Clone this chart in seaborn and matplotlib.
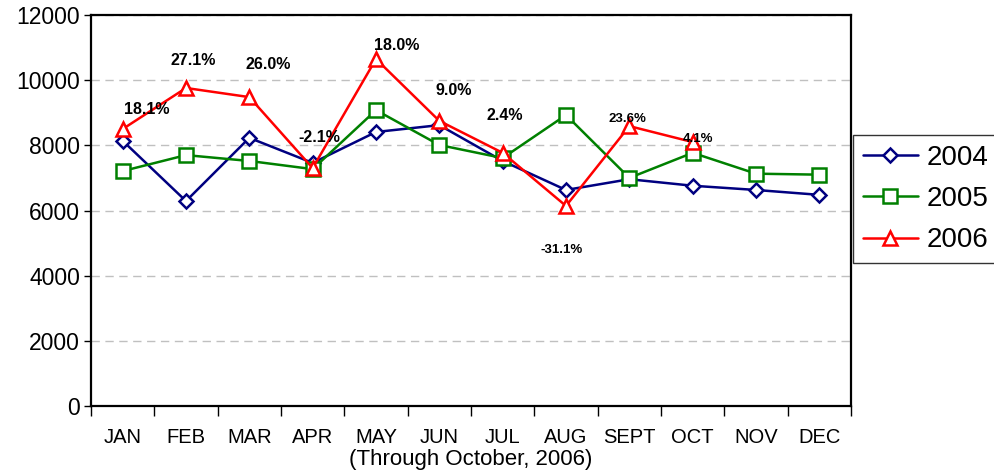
import numpy as np
import pandas as pd
import matplotlib
matplotlib.use("Agg")
import matplotlib.pyplot as plt
from matplotlib.ticker import FixedLocator
import seaborn as sns

months = ['JAN', 'FEB', 'MAR', 'APR', 'MAY', 'JUN', 'JUL', 'AUG', 'SEPT', 'OCT', 'NOV', 'DEC']
sales_2004 = [8140, 6290, 8230, 7460, 8410, 8620, 7520, 6630, 6960, 6760, 6630, 6480]
sales_2005 = [7210, 7700, 7520, 7270, 9080, 8010, 7610, 8930, 7000, 7770, 7130, 7100]
sales_2006 = [8500, 9760, 9480, 7300, 10650, 8750, 7770, 6140, 8590, 8100]
pct_labels = ['18.1%', '27.1%', '26.0%', '-2.1%', '18.0%', '9.0%', '2.4%', '-31.1%', '23.6%', '4.1%']

sns.set_style("white")
plt.rcParams['font.family'] = ['Liberation Sans', 'DejaVu Sans']
for key in ['text.color', 'axes.labelcolor', 'xtick.color', 'ytick.color']:
    plt.rcParams[key] = 'black'

fig = plt.figure(figsize=(9.95, 4.74), dpi=100)
ax = fig.add_axes([91 / 995, 1 - 406 / 474, 760 / 995, 391 / 474])

series = [
    ('2004', sales_2004, '#000080', 'D', 7.5),
    ('2005', sales_2005, '#008000', 's', 9.5),
    ('2006', sales_2006, '#ff0000', '^', 10.5),
]
for name, vals, color, marker, ms in series:
    df = pd.DataFrame({'x': np.arange(len(vals)), 'y': vals})
    sns.lineplot(data=df, x='x', y='y', ax=ax, color=color, linewidth=1.8,
                 marker=marker, markersize=ms, markerfacecolor='white',
                 markeredgecolor=color, markeredgewidth=1.8, label=name)

# percent change labels near the 2006 points
offsets = [(24, 20), (7, 27), (19, 33), (7, 31), (21, 13), (14, 30),
           (2, 37), (-4, -44), (-2, 7), (5, 3)]
sizes = [11.5, 11.5, 11.5, 11.5, 11.5, 11.5, 11.5, 9.5, 9.5, 9.5]
for i, (lab, off, fs) in enumerate(zip(pct_labels, offsets, sizes)):
    ax.annotate(lab, (i, sales_2006[i]), xytext=off, textcoords='offset pixels',
                ha='center', va='center', fontsize=fs, fontweight='bold')

ax.set_xlim(-0.5, 11.5)
ax.set_ylim(0, 12000)
ax.set_yticks(range(0, 12001, 2000))
ax.set_yticklabels([str(v) for v in range(0, 12001, 2000)], fontsize=16.5)
ax.set_xticks(range(12))
ax.set_xticklabels(months, fontsize=14.5)
ax.xaxis.set_minor_locator(FixedLocator(np.arange(-0.5, 12, 1)))
ax.tick_params(axis='x', which='major', length=0, pad=16)
ax.tick_params(axis='x', which='minor', length=7, width=1, color='black', direction='out', bottom=True)
ax.tick_params(axis='y', length=5, width=1, color='black', direction='out', left=True, pad=3)
ax.set_xlabel('(Through October, 2006)', fontsize=16, labelpad=1.5)
ax.set_ylabel('')

ax.yaxis.grid(True, linestyle=(0, (6, 4)), color='#c0c0c0', linewidth=1)
ax.xaxis.grid(False)
ax.set_axisbelow(True)
for sp in ax.spines.values():
    sp.set_color('black')
    sp.set_linewidth(1.6)

ax.get_legend().remove()
handles, labels = ax.get_legend_handles_labels()
leg = fig.legend(handles, labels, loc='upper left', bbox_to_anchor=(853 / 995, 1 - 135 / 474),
                 fontsize=20, frameon=True, fancybox=False, handlelength=2.0,
                 labelspacing=0.55, borderpad=0.35, handletextpad=0.3, borderaxespad=0)
leg.get_frame().set_edgecolor('black')
leg.get_frame().set_linewidth(1)

fig.savefig('out.png', dpi=100)
